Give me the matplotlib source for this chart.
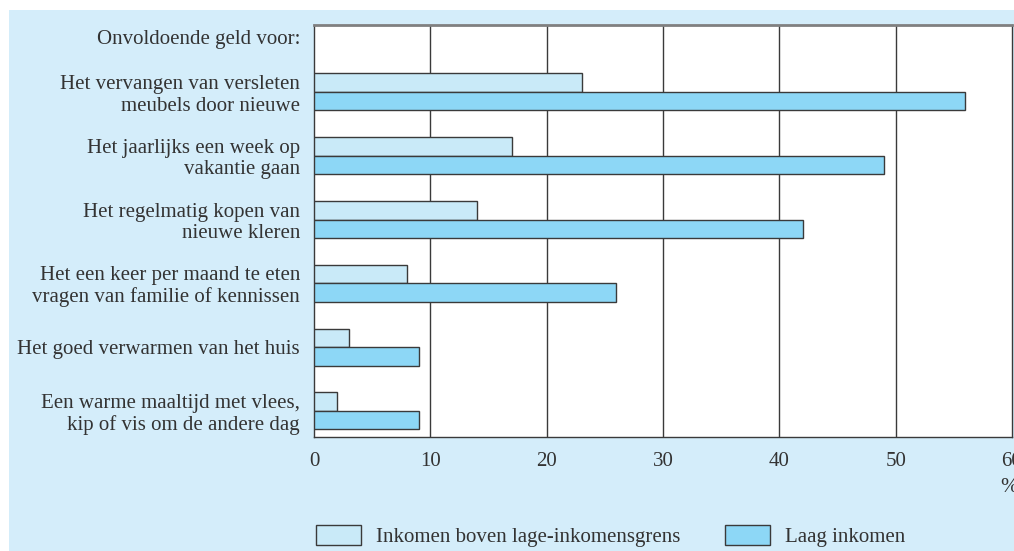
import numpy as np
import matplotlib.pyplot as plt
from matplotlib.patches import Rectangle, Patch

# data (percentages)
categories = [
    "Het vervangen van versleten\nmeubels door nieuwe",
    "Het jaarlijks een week op\nvakantie gaan",
    "Het regelmatig kopen van\nnieuwe kleren",
    "Het een keer per maand te eten\nvragen van familie of kennissen",
    "Het goed verwarmen van het huis",
    "Een warme maaltijd met vlees,\nkip of vis om de andere dag",
]
boven_grens = [23, 17, 14, 8, 3, 2]
laag_inkomen = [56, 49, 42, 26, 9, 9]
xticks = [0, 10, 20, 30, 40, 50, 60]

bg = "#d4edfa"
light = "#c9eaf8"
dark = "#8dd7f6"
edge = "#3a3a3a"
txt = "#333333"
fs = 15

plt.rcParams['font.family'] = ['Liberation Serif', 'DejaVu Serif']

fig = plt.figure(figsize=(10.14, 5.51), dpi=100, facecolor="white")
# light blue panel behind everything
fig.patches.append(Rectangle((9/1014, 0), 1 - 9/1014, 1 - 10/551,
                             transform=fig.transFigure, facecolor=bg,
                             edgecolor="none", zorder=-10))

ax = fig.add_axes([314/1014, 1 - 437/551, (1012 - 314)/1014, (437 - 25)/551])
ax.set_facecolor("white")

y = np.arange(len(categories))
h = 0.29
ax.barh(y - h/2, boven_grens, height=h, color=light, edgecolor=edge, linewidth=1, zorder=3)
ax.barh(y + h/2, laag_inkomen, height=h, color=dark, edgecolor=edge, linewidth=1, zorder=3)

ax.set_xlim(0, 60)
ax.set_ylim(5.41, -1.05)
ax.set_xticks(xticks)
ax.set_xticklabels([str(t) for t in xticks], fontsize=fs, color=txt)
ax.set_yticks(y)
ax.set_yticklabels(categories, fontsize=fs, color=txt, linespacing=1.15)
ax.tick_params(axis="y", length=0, pad=10)
ax.tick_params(axis="x", length=0, pad=11)
for x in xticks[1:-1]:
    ax.axvline(x, color=edge, linewidth=1, zorder=1)

for s in ["left", "bottom", "right"]:
    ax.spines[s].set_color(edge)
    ax.spines[s].set_linewidth(1)
ax.spines["top"].set_color("#808080")
ax.spines["top"].set_linewidth(2)

ax.annotate("Onvoldoende geld voor:", xy=(0, -0.82), xycoords="data",
            xytext=(-10, 0), textcoords="offset points", ha="right", va="center",
            fontsize=fs, color=txt)
fig.text(1009/1014, 1 - 487/551, "%", ha="center", va="center", fontsize=fs, color=txt)

handles = [Patch(facecolor=light, edgecolor=edge, linewidth=1),
           Patch(facecolor=dark, edgecolor=edge, linewidth=1)]
fig.legend(handles, ["Inkomen boven lage-inkomensgrens", "Laag inkomen"],
           loc="center left", bbox_to_anchor=(316/1014, 1 - 536/551), ncol=2,
           frameon=False, fontsize=fs, handlelength=2.16, handleheight=1.1,
           handletextpad=0.72, columnspacing=2.16, labelcolor=txt,
           borderpad=0, borderaxespad=0)

fig.savefig("out.png", dpi=100, facecolor=fig.get_facecolor())
